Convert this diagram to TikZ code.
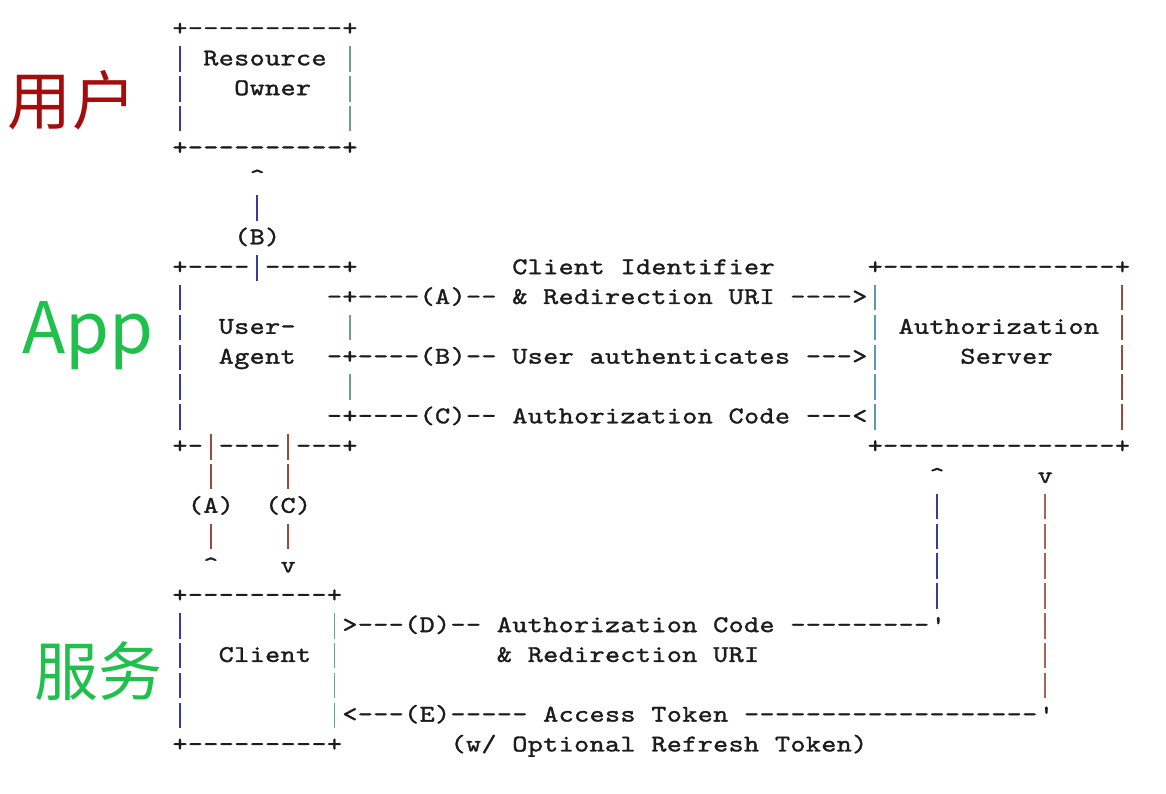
\documentclass[tikz,border=0pt]{standalone}
\usepackage{fontspec}
\newfontfamily\cjkfont{Noto Sans CJK SC}
\newfontfamily\asciifont{lmmono10-regular.otf}[FakeStretch=1.2,FakeBold=1.3]
\definecolor{ink}{HTML}{1C1C1C}
\definecolor{lbar}{HTML}{3A3A9E}
\definecolor{rbar}{HTML}{6E9C9A}
\definecolor{sbar}{HTML}{5A9AAE}
\definecolor{bbar}{HTML}{9A4A3C}
\definecolor{pbar}{HTML}{A8645A}
\definecolor{userred}{HTML}{A50D0D}
\definecolor{appgreen}{HTML}{20C04C}
\newlength\cw \setlength\cw{15.45pt}
\newcommand\vbar[1]{\textcolor{#1}{\rule[-6.5pt]{1.9pt}{25.5pt}}}
\newcommand\VL{\vbar{lbar}}
\newcommand\VR{\vbar{rbar}}
\newcommand\VS{\vbar{sbar}}
\newcommand\VB{\vbar{bbar}}
\newcommand\VT{\vbar{bbar}}
\newcommand\VP{\vbar{pbar}}
\makeatletter
\def\ascrow#1{\ascrow@#1\@nil}
\def\ascrow@#1{\ifx#1\@nil\else\makebox[\cw][c]{#1}\expandafter\ascrow@\fi}
\makeatother
\newcommand\seg[3]{\node[ascii] (s#1c#2) at (#2,#1) {\ascrow{#3}};}
\tikzset{
  ascii/.style={anchor=base west, inner sep=0pt, outer sep=0pt, text=ink,
    font=\asciifont\fontsize{24}{24}\selectfont},
  cjklabel/.style={inner sep=0pt}
}
\begin{document}
\begin{tikzpicture}[x=1pt,y=-1pt]
\fill[white] (0,0) rectangle (1166,794);
\useasboundingbox (0,0) rectangle (1166,794);
% side labels
\node[cjklabel, font=\cjkfont\fontsize{64}{64}\selectfont, text=userred] (yonghu) at (72,100) {用户};
\node[cjklabel, font=\cjkfont\fontsize{71}{71}\selectfont, text=appgreen, anchor=base west] (app) at (22,353) {App};
\node[cjklabel, font=\cjkfont\fontsize{64}{64}\selectfont, text=appgreen] (fuwu) at (98,671) {服务};
\begin{scope}[shift={(95,35.5)}, x=15.45pt, y=-29.83pt]
\seg{0}{5}{+----------+}
\seg{1}{5}{\VL}\seg{1}{7}{Resource}\seg{1}{16}{\VR}
\seg{2}{5}{\VL}\seg{2}{9}{Owner}\seg{2}{16}{\VR}
\seg{3}{5}{\VL}\seg{3}{16}{\VR}
\seg{4}{5}{+----------+}
\seg{5}{10}{\textasciicircum}
\seg{6}{10}{\VL}
\seg{7}{9}{(B)}
\seg{8}{5}{+----\VL-----+}
\seg{8}{27}{Client~Identifier}
\seg{8}{50}{+---------------+}
\seg{9}{5}{\VL}\seg{9}{15}{-+----(A)--~\&~Redirection~URI~---->\VS}\seg{9}{66}{\VT}
\seg{10}{5}{\VL}\seg{10}{8}{User-}\seg{10}{16}{\VR}\seg{10}{50}{\VS}\seg{10}{52}{Authorization}\seg{10}{66}{\VT}
\seg{11}{5}{\VL}\seg{11}{8}{Agent}\seg{11}{15}{-+----(B)--~User~authenticates~--->\VS}\seg{11}{56}{Server}\seg{11}{66}{\VT}
\seg{12}{5}{\VL}\seg{12}{16}{\VR}\seg{12}{50}{\VS}\seg{12}{66}{\VT}
\seg{13}{5}{\VL}\seg{13}{15}{-+----(C)--~Authorization~Code~---<\VS}\seg{13}{66}{\VT}
\seg{14}{5}{+-\VB----\VB---+}\seg{14}{50}{+---------------+}
\seg{15}{7}{\VB}\seg{15}{12}{\VB}\seg{15}{54}{\textasciicircum}\seg{15}{61}{v}
\seg{16}{6}{(A)}\seg{16}{11}{(C)}\seg{16}{54}{\VL}\seg{16}{61}{\VP}
\seg{17}{7}{\VB}\seg{17}{12}{\VB}\seg{17}{54}{\VL}\seg{17}{61}{\VP}
\seg{18}{7}{\textasciicircum}\seg{18}{12}{v}\seg{18}{54}{\VL}\seg{18}{61}{\VP}
\seg{19}{5}{+---------+}\seg{19}{54}{\VL}\seg{19}{61}{\VP}
\seg{20}{5}{\VL}\seg{20}{15}{\VR>---(D)--~Authorization~Code~---------\textquotesingle}\seg{20}{61}{\VP}
\seg{21}{5}{\VL}\seg{21}{8}{Client}\seg{21}{15}{\VR}\seg{21}{26}{\&~Redirection~URI}\seg{21}{61}{\VP}
\seg{22}{5}{\VL}\seg{22}{15}{\VR}\seg{22}{61}{\VP}
\seg{23}{5}{\VL}\seg{23}{15}{\VR<---(E)-----~Access~Token~-------------------\textquotesingle}
\seg{24}{5}{+---------+}\seg{24}{23}{(w/~Optional~Refresh~Token)}
\end{scope}
\end{tikzpicture}
\end{document}
